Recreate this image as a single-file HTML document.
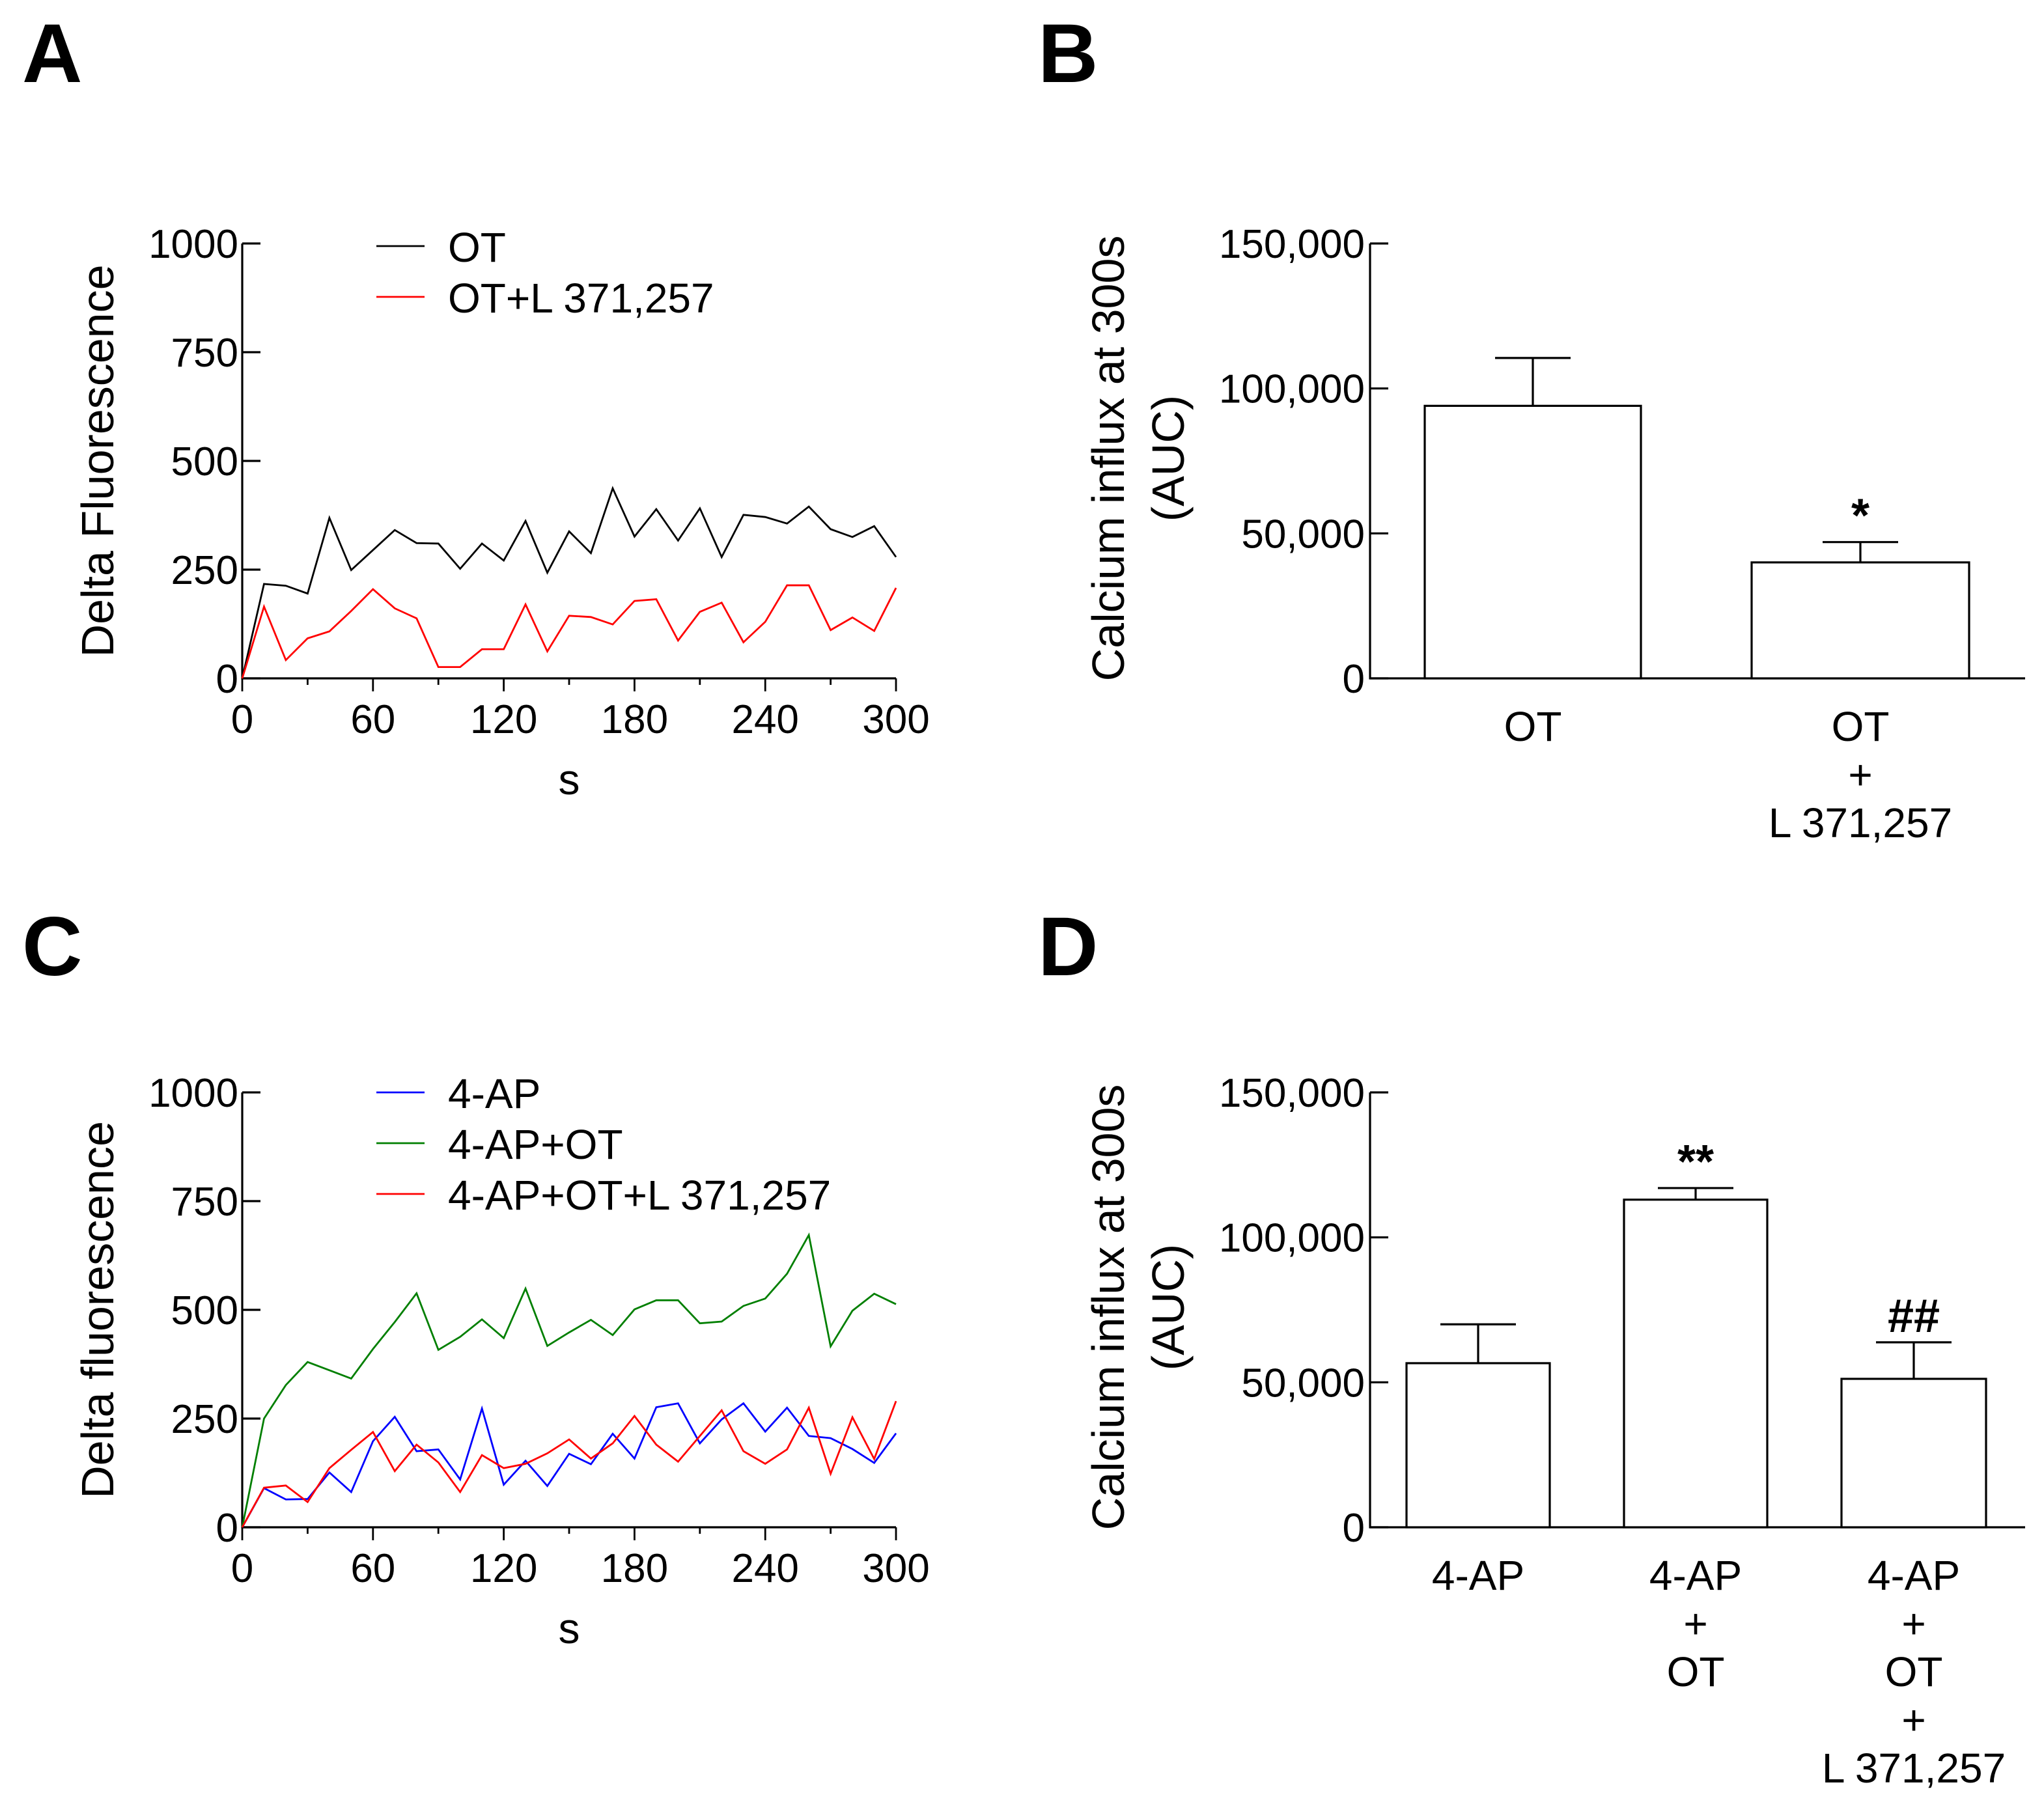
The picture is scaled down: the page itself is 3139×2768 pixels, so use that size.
<!DOCTYPE html>
<html><head><meta charset="utf-8"><style>
html,body{margin:0;padding:0;background:#fff;}
svg{display:block;}
text{font-family:"Liberation Sans",Arial,sans-serif;fill:#000;}
</style></head><body>
<svg id="fig" width="3139" height="2768" viewBox="0 0 1569.5 1384" xmlns="http://www.w3.org/2000/svg">
<rect width="1569.5" height="1384" fill="#fff"/>
</svg>
<script>
const timeS = [0,10,20,30,40,50,60,70,80,90,100,110,120,130,140,150,160,170,180,190,200,210,220,230,240,250,260,270,280,290,300];
const seriesOT = [0,217,213,195,369,249,295,341,311,310,252,310,271,362,243,338,288,437,326,389,317,391,279,376,371,356,395,343,325,350,279];
const seriesOTL = [0,165,42,92,108,155,205,161,138,26,26,67,67,170,62,144,141,124,178,182,87,153,174,83,130,214,214,111,140,109,208];
const series4AP = [0,90,64,65,126,81,198,254,175,179,110,273,98,153,95,169,145,215,158,276,285,193,248,285,220,275,210,205,180,148,216];
const series4APOT = [0,250,327,380,361,342,410,472,538,408,438,478,435,549,417,448,477,442,501,522,522,469,473,509,526,583,672,416,498,537,513];
const series4APOTL = [0,91,96,58,136,178,219,129,190,149,81,166,136,146,170,202,158,193,256,190,151,210,269,175,146,179,275,123,253,157,290];
const lineYTicks = [0,250,500,750,1000];
const lineXTicks = [0,60,120,180,240,300];
const barBCats = ["OT","OT+L"];
const barBMeans = [94000,40000];
const barBErr = [16500,7000];
const barDCats = ["4-AP","4-AP+OT","4-AP+OT+L"];
const barDMeans = [56600,113000,51200];
const barDErr = [13400,4000,12600];
const barYTicks = [0,50000,100000,150000];
const barYTickLabels = ["0","50,000","100,000","150,000"];

const NS="http://www.w3.org/2000/svg";
const svg=document.getElementById('fig');
function el(tag,attrs,parent,txt){const e=document.createElementNS(NS,tag);for(const k in attrs)e.setAttribute(k,attrs[k]);if(txt!==undefined)e.textContent=txt;(parent||svg).appendChild(e);return e;}

function lineChart(y0,letter,letterY,title,series,colors,names,legendY){
  const g=el('g',{});
  
  
  const x0=186,x1=688,yb=y0+334,yt=y0;
  const sx=v=>x0+(v/300)*(x1-x0), sy=v=>yb-(v/1000)*(yb-yt);
  const pl=el('text',{x:17,y:letterY,'font-size':64,'font-weight':'bold'},g,letter);
  
  
  const ax=el('path',{d:`M${x0},${yt}V${yb}H${x1}`,stroke:'#000','stroke-width':1.6,fill:'none'},g);
  
  
  lineYTicks.forEach(t=>{
    el('line',{x1:x0,x2:x0+14,y1:sy(t),y2:sy(t),stroke:'#000','stroke-width':1.6},g);
    const tl=el('text',{x:x0-3,y:sy(t)+11,'font-size':31,'text-anchor':'end'},g,t);
    
    
  });
  for(let v=0;v<=300;v+=30){const maj=lineXTicks.includes(v);el('line',{x1:sx(v),x2:sx(v),y1:yb,y2:yb+(maj?10:5),stroke:'#000','stroke-width':1.4},g);}
  lineXTicks.forEach(t=>{
    const tl=el('text',{x:sx(t),y:yb+42,'font-size':31,'text-anchor':'middle'},g,t);
    
    
  });
  const xt=el('text',{x:437,y:yb+89,'font-size':33,'text-anchor':'middle'},g,'s');
  
  
  const yt2=el('text',{x:0,y:0,'font-size':35,'text-anchor':'middle',transform:`translate(87,${(yt+yb)/2}) rotate(-90)`},g,title);
  
  
  series.forEach((s,i)=>{
    const d=s.map((v,j)=>(j?'L':'M')+sx(timeS[j]).toFixed(2)+','+sy(v).toFixed(2)).join('');
    const p=el('path',{d,stroke:colors[i],'stroke-width':1.4,fill:'none','stroke-linejoin':'miter'},g);
    
    
    const ly=legendY+i*39;
    const le=el('g',{},g);
    
    
    el('line',{x1:289,x2:326,y1:ly,y2:ly,stroke:colors[i],'stroke-width':1.4},le);
    el('text',{x:344,y:ly+12,'font-size':32},le,names[i]);
  });
}
lineChart(187,'A',63,'Delta Fluorescence',[seriesOT,seriesOTL],['#000','#f00'],['OT','OT+L 371,257'],189);
lineChart(839,'C',749,'Delta fluorescence',[series4AP,series4APOT,series4APOTL],['#00f','#007f00','#f00'],['4-AP','4-AP+OT','4-AP+OT+L 371,257'],839);

function barChart(y0,letter,letterY,means,errs,bars,labels,marks){
  const g=el('g',{});
  
  
  const x0=1052,x1=1555,yb=y0+334;
  const sy=v=>yb-(v/150000)*334;
  const pl=el('text',{x:797,y:letterY,'font-size':64,'font-weight':'bold'},g,letter);
  
  
  const ax=el('path',{d:`M${x0},${y0}V${yb}H${x1}`,stroke:'#000','stroke-width':1.6,fill:'none'},g);
  
  
  barYTicks.forEach((t,i)=>{
    el('line',{x1:x0,x2:x0+14,y1:sy(t),y2:sy(t),stroke:'#000','stroke-width':1.6},g);
    const tl=el('text',{x:x0-4,y:sy(t)+11,'font-size':31,'text-anchor':'end'},g,barYTickLabels[i]);
    
    
  });
  const t1=el('text',{x:0,y:0,'font-size':35,'text-anchor':'middle',transform:`translate(863,${y0+165}) rotate(-90)`},g,'Calcium influx at 300s');
  
  
  const t2=el('text',{x:0,y:0,'font-size':35,'text-anchor':'middle',transform:`translate(909,${y0+165}) rotate(-90)`},g,'(AUC)');
  
  
  means.forEach((m,i)=>{
    const [bx,bw]=bars[i],cx=bx+bw/2;
    const r=el('rect',{x:bx,y:sy(m),width:bw,height:yb-sy(m),fill:'#fff',stroke:'#000','stroke-width':1.6},g);
    
    
    const e=el('path',{d:`M${cx},${sy(m)}V${sy(m+errs[i])}M${cx-29},${sy(m+errs[i])}H${cx+29}`,stroke:'#000','stroke-width':1.6,fill:'none'},g);
    
    
    const lg=el('g',{},g);
    
    
    labels[i].forEach((s,k)=>el('text',{x:cx,y:yb+48+k*37,'font-size':32,'text-anchor':'middle'},lg,s));
    if(marks[i]){const mk=el('text',{x:cx,y:sy(m+errs[i])-8,'font-size':36,'text-anchor':'middle','font-weight':'bold'},g,marks[i]);
      
      }
  });
}
barChart(187,'B',63,barBMeans,barBErr,[[1094,166],[1345,167]],[['OT'],['OT','+','L 371,257']],['','*']);
barChart(839,'D',749,barDMeans,barDErr,[[1080,110],[1247,110],[1414,111]],[['4-AP'],['4-AP','+','OT'],['4-AP','+','OT','+','L 371,257']],['','**','##']);
</script>
</body></html>
